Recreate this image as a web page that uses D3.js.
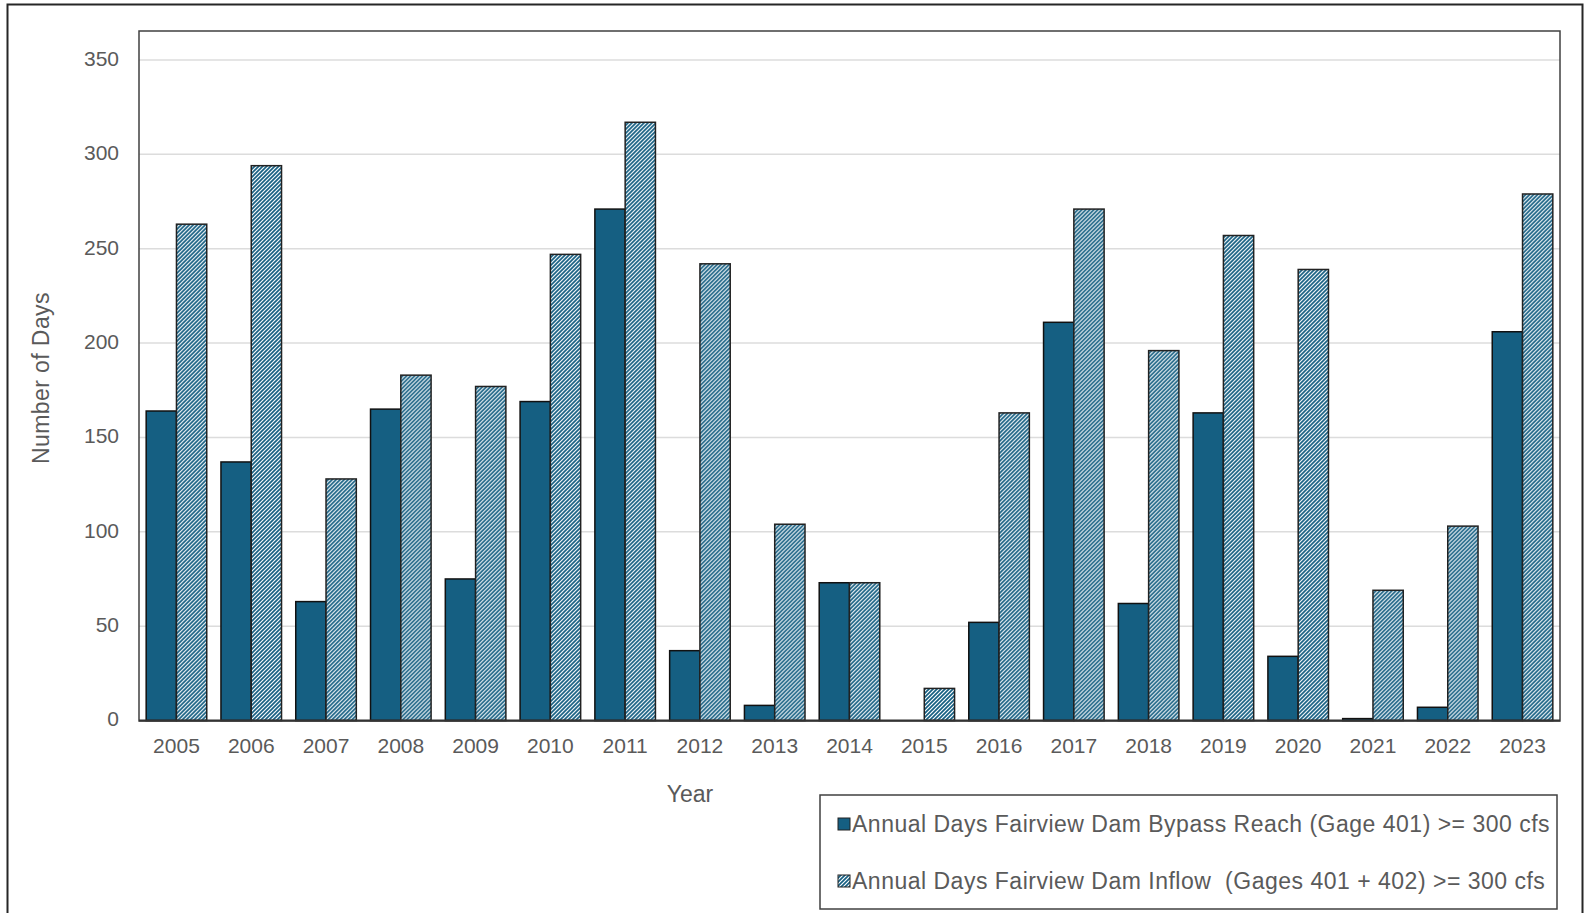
<!DOCTYPE html>
<html>
<head>
<meta charset="utf-8">
<script src="https://cdn.jsdelivr.net/npm/d3@7"></script>
<style>
  html, body { margin: 0; padding: 0; background: #fff; }
  svg { display: block; font-family: "Liberation Sans", Arial, sans-serif; }
</style>
</head>
<body>
<svg id="chart" width="1584" height="913"></svg>
<script>
// Annual days at or above 300 cfs, by year
const years = ["2005","2006","2007","2008","2009","2010","2011","2012","2013","2014",
               "2015","2016","2017","2018","2019","2020","2021","2022","2023"];
const bypassDays = [164, 137, 63, 165, 75, 169, 271, 37, 8, 73, 0, 52, 211, 62, 163, 34, 1, 7, 206];
const inflowDays = [263, 294, 128, 183, 177, 247, 317, 242, 104, 73, 17, 163, 271, 196, 257, 239, 69, 103, 279];
const yTicks = [0, 50, 100, 150, 200, 250, 300, 350];
const seriesNames = [
  "Annual Days Fairview Dam Bypass Reach (Gage 401) >= 300 cfs",
  "Annual Days Fairview Dam Inflow  (Gages 401 + 402) >= 300 cfs"
];

const svg = d3.select("#chart");
const dark = "#155f82";
const textGray = "#5a5a5a";

// hatch fill for the inflow series
const defs = svg.append("defs");
const pat = defs.append("pattern")
  .attr("id", "hatch").attr("patternUnits", "userSpaceOnUse")
  .attr("width", 4).attr("height", 4);
pat.append("rect").attr("width", 4).attr("height", 4).attr("fill", "#fff");
pat.append("path")
  .attr("d", "M-1,1 l2,-2 M0,4 l4,-4 M3,5 l2,-2")
  .attr("stroke", dark).attr("stroke-width", 1.7);

// outer frame
svg.append("rect")
  .attr("x", 7.5).attr("y", 4.5).attr("width", 1575).attr("height", 930)
  .attr("fill", "none").attr("stroke", "#262626").attr("stroke-width", 2);

const plot = { left: 139, top: 31, right: 1560, bottom: 721 };

const x = d3.scaleBand().domain(years)
  .range([plot.left, plot.right]).paddingInner(0.19).paddingOuter(0.096);
const xs = d3.scaleBand().domain([0, 1]).range([0, x.bandwidth()]);
const y = d3.scaleLinear().domain([0, 350]).range([720.5, 60]);

// gridlines
svg.append("g").selectAll("line").data(yTicks.filter(d => d > 0)).join("line")
  .attr("x1", plot.left).attr("x2", plot.right)
  .attr("y1", d => y(d)).attr("y2", d => y(d))
  .attr("stroke", "#dcdcdc").attr("stroke-width", 1.5);

// plot frame
svg.append("rect")
  .attr("x", plot.left).attr("y", plot.top)
  .attr("width", plot.right - plot.left).attr("height", plot.bottom - plot.top)
  .attr("fill", "none").attr("stroke", "#404040").attr("stroke-width", 1.5);

// bars
const groups = svg.append("g").selectAll("g").data(years).join("g")
  .attr("transform", d => `translate(${x(d)},0)`);

groups.append("rect")
  .attr("x", xs(0)).attr("width", xs.bandwidth())
  .attr("y", (d, i) => y(bypassDays[i]))
  .attr("height", (d, i) => y(0) - y(bypassDays[i]))
  .attr("fill", dark).attr("stroke", "#111").attr("stroke-width", 1.5);

groups.append("rect")
  .attr("x", xs(1)).attr("width", xs.bandwidth())
  .attr("y", (d, i) => y(inflowDays[i]))
  .attr("height", (d, i) => y(0) - y(inflowDays[i]))
  .attr("fill", "url(#hatch)").attr("stroke", "#222").attr("stroke-width", 1.5);

// baseline
svg.append("line")
  .attr("x1", plot.left).attr("x2", plot.right)
  .attr("y1", y(0)).attr("y2", y(0))
  .attr("stroke", "#333").attr("stroke-width", 2);

// y axis labels
const yAxis = d3.axisLeft(y).tickValues(yTicks).tickSize(0).tickPadding(0);
const yg = svg.append("g").attr("transform", "translate(119,0)").call(yAxis);
yg.select(".domain").remove();
yg.selectAll("text").attr("fill", textGray).attr("font-size", 21)
  .attr("font-family", "Liberation Sans, Arial, sans-serif").attr("dy", "0.26em");

// x axis labels
const xAxis = d3.axisBottom(x).tickSize(0).tickPadding(0);
const xg = svg.append("g").attr("transform", "translate(0,738)").call(xAxis);
xg.select(".domain").remove();
xg.selectAll("text").attr("fill", textGray).attr("font-size", 21)
  .attr("font-family", "Liberation Sans, Arial, sans-serif").attr("dy", "0.71em");

// axis titles
svg.append("text")
  .attr("transform", "translate(41,378) rotate(-90)")
  .attr("text-anchor", "middle").attr("dy", "0.35em")
  .attr("fill", textGray).attr("font-size", 23).attr("letter-spacing", 0.4)
  .text("Number of Days");

svg.append("text")
  .attr("x", 690).attr("y", 794).attr("text-anchor", "middle").attr("dy", "0.35em")
  .attr("fill", textGray).attr("font-size", 23).text("Year");

// legend
const lg = svg.append("g");
lg.append("rect")
  .attr("x", 820).attr("y", 795).attr("width", 737).attr("height", 114)
  .attr("fill", "#fff").attr("stroke", "#404040").attr("stroke-width", 1.5);

const rowsY = [824, 881];
const fills = [dark, "url(#hatch)"];
seriesNames.forEach((name, i) => {
  lg.append("rect")
    .attr("x", 838).attr("y", rowsY[i] - 6).attr("width", 12).attr("height", 12)
    .attr("fill", fills[i]).attr("stroke", "#222").attr("stroke-width", 1);
  lg.append("text")
    .attr("x", 852).attr("y", rowsY[i]).attr("dy", "0.35em")
    .attr("fill", textGray).attr("font-size", 23).attr("letter-spacing", 0.5)
    .attr("xml:space", "preserve").style("white-space", "pre")
    .text(name);
});
</script>
</body>
</html>
